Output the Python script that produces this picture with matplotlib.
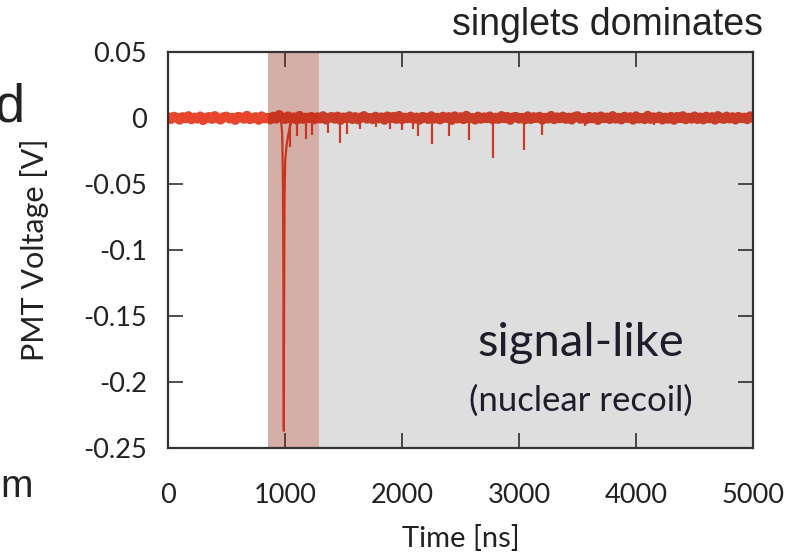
import matplotlib
matplotlib.use("Agg")
import matplotlib.pyplot as plt
import numpy as np

plt.rcParams["font.family"] = ["Lato", "DejaVu Sans"]

# baseline trace, sampled every 25 ns from 0 to 5000 ns, values in mV
base_t = list(range(0, 5001, 25))
base_mv = [
    0.6, -0.9, 1.1, 0.2, -1.4, 0.8, -0.3, 1.5, -1.1, 0.4,
    -0.6, 1.3, -1.7, 0.1, 0.9, -0.8, 1.6, -0.2, -1.3, 0.7,
    1.2, -0.5, 0.3, -1.6, 1.0, 0.5, -0.7, 1.8, -1.0, -0.1,
    0.8, -1.5, 1.4, -0.4, 0.2, -1.2, 1.1, -0.6, 2.4, 0.0,
    -0.9, 1.3, -0.3, 0.6, -1.4, 1.7, -0.8, 0.4, -0.2, 1.0,
    -1.1, 0.7, -0.5, 1.5, -1.3, 0.3, 0.9, -0.7, 1.2, -1.6,
    0.5, -0.1, 1.4, -0.9, 0.8, -1.2, 0.2, 1.6, -0.6, 0.1,
    -1.0, 1.1, -0.4, 0.6, -1.5, 1.3, -0.2, 0.9, -0.8, 1.7,
    -1.1, 0.4, -0.3, 1.2, -0.7, 0.5, -1.4, 1.0, 0.2, -0.9,
    1.5, -0.6, 0.3, -1.2, 1.1, -0.1, 0.8, -1.6, 1.4, -0.5,
    0.7, -1.0, 1.8, -0.4, 0.1, -1.3, 1.2, -0.7, 0.6, -0.2,
    1.3, -1.1, 0.4, -0.8, 1.6, -0.3, 0.9, -1.5, 0.5, 1.0,
    -0.6, 0.2, -1.2, 1.4, -0.9, 0.7, -0.1, 1.1, -1.4, 0.3,
    -0.5, 1.7, -1.0, 0.6, -0.3, 1.2, -0.8, 0.4, -1.3, 0.9,
    1.5, -0.7, 0.1, -1.1, 1.0, -0.4, 0.8, -1.6, 1.3, -0.2,
    0.5, -0.9, 1.6, -0.6, 0.3, -1.2, 1.1, -0.1, 0.7, -1.4,
    1.4, -0.5, 0.2, -1.0, 1.8, -0.8, 0.6, -0.3, 1.2, -1.3,
    0.4, -0.7, 1.0, -1.5, 0.9, -0.2, 1.5, -1.1, 0.3, -0.6,
    1.3, -0.9, 0.5, -1.2, 1.1, -0.4, 0.8, -1.4, 1.6, -0.1,
    -0.8, 1.2, -0.5, 0.7, -1.3, 1.0, -0.3, 0.4, -1.0, 1.4,
    0.2,
]

# main scintillation pulse
pulse_t = [940, 958, 968, 976, 982, 986, 988, 990, 992, 996, 1002, 1012, 1025, 1040, 1060]
pulse_v = [-0.001, 0.001, -0.004, -0.012, -0.045, -0.11, -0.19, -0.237, -0.15, -0.06,
           -0.032, -0.022, -0.014, -0.007, -0.002]

# single photoelectron spikes in the tail
spike_t = [1043, 1100, 1180, 1235, 1365, 1470, 1530, 1640, 1780, 1900,
           2000, 2094, 2137, 2256, 2402, 2573, 2778, 3043, 3197, 3560, 4150]
spike_v = [-0.022, -0.014, -0.016, -0.013, -0.011, -0.019, -0.012, -0.008, -0.007, -0.008,
           -0.009, -0.008, -0.014, -0.020, -0.014, -0.017, -0.030, -0.024, -0.013, -0.006, -0.005]

prompt_window = (855, 1290)
tail_window = (1290, 5000)

x_ticks = [0, 1000, 2000, 3000, 4000, 5000]
y_ticks = [0.05, 0, -0.05, -0.1, -0.15, -0.2, -0.25]
y_labels = ["0.05", "0", "-0.05", "-0.1", "-0.15", "-0.2", "-0.25"]

trace_color = "#e8452d"
ink = "#333333"

fig = plt.figure(figsize=(7.88, 5.58), dpi=100)
ax = fig.add_axes([168 / 788, 110 / 558, 585 / 788, 396 / 558])

ax.plot(base_t, np.array(base_mv) / 1000.0, color=trace_color, lw=7.0, zorder=2)
ax.vlines(spike_t, 0, spike_v, color=trace_color, lw=1.6, zorder=2)
ax.plot(pulse_t, pulse_v, color=trace_color, lw=1.6, zorder=3)

ax.axvspan(*prompt_window, color="#8a1806", alpha=0.35, lw=0, zorder=4)
ax.axvspan(*tail_window, color="black", alpha=0.13, lw=0, zorder=4)

ax.set_xlim(0, 5000)
ax.set_ylim(-0.25, 0.05)
ax.set_xticks(x_ticks)
ax.set_xticklabels([str(t) for t in x_ticks])
ax.set_yticks(y_ticks)
ax.set_yticklabels(y_labels)

ax.tick_params(direction="in", length=11, width=1.2, color=ink, labelsize=19.5,
               labelcolor="#222222", top=True, right=True, zorder=6)
ax.tick_params(axis="x", pad=25)
ax.tick_params(axis="y", pad=15)
for s in ax.spines.values():
    s.set_linewidth(1.6)
    s.set_color(ink)
    s.set_zorder(7)

ax.set_xlabel("Time [ns]", fontsize=21, color="#222222")
ax.xaxis.set_label_coords(0.5, -0.195)
ax.set_ylabel("PMT Voltage [V]", fontsize=22, color="#222222")
ax.yaxis.set_label_coords(-0.203, 0.5)

ax.text(0.705, 0.265, "signal-like", transform=ax.transAxes, ha="center", va="center",
        fontsize=34, color="#1e1e2a", zorder=8)
ax.text(0.705, 0.119, "(nuclear recoil)", transform=ax.transAxes, ha="center", va="center",
        fontsize=25, color="#1e1e2a", zorder=8)

top_font = ["Liberation Sans", "DejaVu Sans"]
fig.text(763 / 788, 1 - 35 / 558, "singlets dominates", ha="right", va="baseline",
         fontsize=27, family=top_font, color="#222222")
fig.text(25 / 788, 1 - 122 / 558, "d", ha="right", va="baseline",
         fontsize=39, family=top_font, color="#222222")
fig.text(33 / 788, 1 - 497 / 558, "m", ha="right", va="baseline",
         fontsize=28, family=top_font, color="#222222")

fig.savefig("out.png", dpi=100)
